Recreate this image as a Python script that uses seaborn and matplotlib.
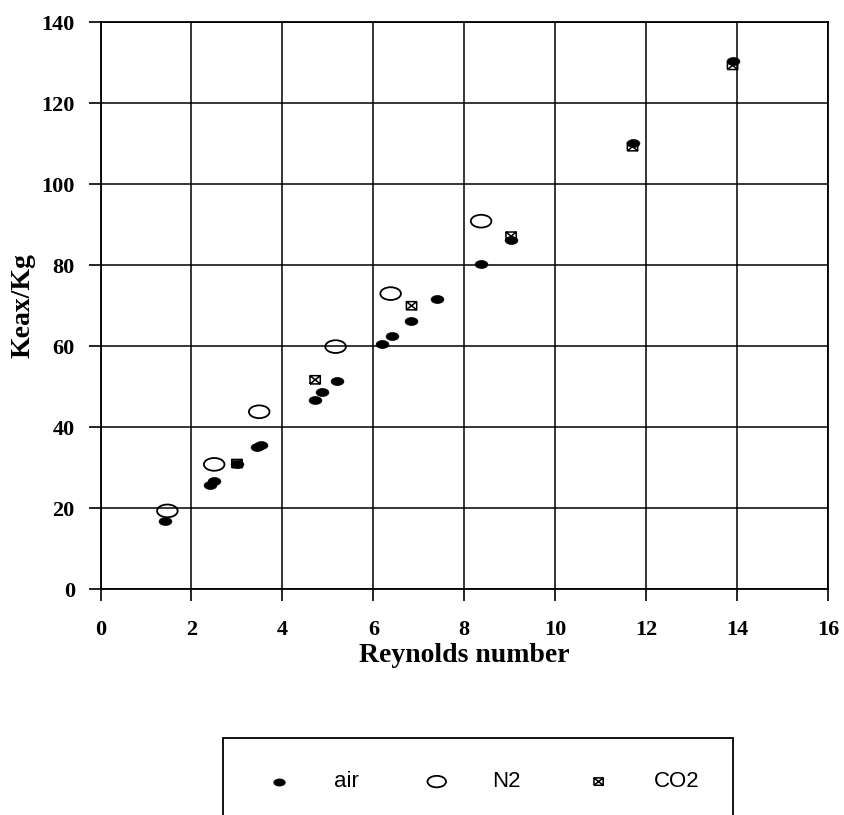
import numpy as np
import pandas as pd
import matplotlib
matplotlib.use("Agg")
import matplotlib.pyplot as plt
from matplotlib.path import Path
import seaborn as sns

# ---- data ----
air_re = [1.42, 2.40, 2.50, 3.00, 3.44, 3.52, 4.71, 4.87, 5.19, 6.20, 6.42, 6.82,
          7.41, 8.37, 9.03, 11.70, 13.90]
air_k = [16.8, 25.6, 26.6, 31.0, 35.0, 35.7, 46.8, 48.6, 51.5, 60.5, 62.6, 66.3,
         71.7, 80.4, 86.2, 110.3, 130.5]
n2_re = [1.47, 2.50, 3.49, 5.17, 6.38, 8.37]
n2_k = [19.3, 30.8, 43.8, 59.9, 73.0, 90.9]
co2_re = [3.00, 4.72, 6.84, 9.03, 11.70, 13.90]
co2_k = [31.0, 51.7, 70.0, 87.2, 109.3, 129.4]
labels = ["air", "N2", "CO2"]
x_ticks = [0, 2, 4, 6, 8, 10, 12, 14, 16]
y_ticks = [0, 20, 40, 60, 80, 100, 120, 140]
x_label = "Reynolds number"
y_label = "Keax/Kg"

sns.set_style("white")
plt.rcParams["font.family"] = ["Liberation Serif", "DejaVu Serif"]
plt.rcParams["text.color"] = "black"
plt.rcParams["axes.labelcolor"] = "black"
plt.rcParams["xtick.color"] = "black"
plt.rcParams["ytick.color"] = "black"

# ---- custom markers ----
circ = Path.unit_circle()
ellipse = Path(circ.vertices * np.array([1.0, 0.62]), circ.codes)
M, L = Path.MOVETO, Path.LINETO
boxx = Path(
    [(-1, -0.8), (1, -0.8), (1, 0.8), (-1, 0.8), (-1, -0.8),
     (-1, -0.8), (1, 0.8), (-1, 0.8), (1, -0.8)],
    [M, L, L, L, L, M, L, M, L],
)

fig = plt.figure(figsize=(8.44, 8.15), dpi=100)
ax = fig.add_axes([0.1191, 0.2773, 0.8620, 0.6951])

sns.scatterplot(x=air_re, y=air_k, ax=ax, marker=ellipse, s=85, color="black",
                edgecolor="black", linewidth=0.5, label=labels[0], zorder=4)
sns.scatterplot(x=n2_re, y=n2_k, ax=ax, marker=ellipse, s=220, color="black",
                facecolor="none", edgecolor="black", linewidth=1.3,
                label=labels[1], zorder=3)
sns.scatterplot(x=co2_re, y=co2_k, ax=ax, marker=boxx, s=55, color="black",
                facecolor="none", edgecolor="black", linewidth=1.1,
                label=labels[2], zorder=5)

ax.set_xlim(0, 16)
ax.set_ylim(0, 140)
ax.set_xticks(x_ticks)
ax.set_yticks(y_ticks)
ax.set_xticklabels([str(t) for t in x_ticks])
ax.set_yticklabels([str(t) for t in y_ticks])
ax.grid(True, color="black", linewidth=1.1)
ax.set_axisbelow(True)
for sp in ax.spines.values():
    sp.set_color("black")
    sp.set_linewidth(1.3)
    sp.set_visible(True)

ax.tick_params(axis="both", which="major", direction="out", length=8.5, width=1.2,
               color="black", labelcolor="black", labelsize=16,
               bottom=True, left=True, top=False, right=False)
ax.tick_params(axis="x", pad=14)
ax.tick_params(axis="y", pad=10)
for lab in ax.get_xticklabels() + ax.get_yticklabels():
    lab.set_fontweight("bold")

ax.set_xlabel(x_label, fontsize=20, fontweight="bold", labelpad=2, color="black")
ax.set_ylabel(y_label, fontsize=20, fontweight="bold", labelpad=4, color="black")

handles, labs = ax.get_legend_handles_labels()
ax.get_legend().remove()
leg = fig.legend(handles, labs, loc="upper center", bbox_to_anchor=(0.5664, 0.108),
                 ncol=3, frameon=True, fancybox=False, shadow=False,
                 edgecolor="black", framealpha=1, markerscale=0.9,
                 prop={"family": "Liberation Sans", "size": 16},
                 handlelength=2.0, handletextpad=1.5, columnspacing=2.5,
                 borderpad=1.5, scatterpoints=1)
leg.get_frame().set_linewidth(1.3)
for t in leg.get_texts():
    t.set_color("black")

fig.savefig("out.png", dpi=100)
